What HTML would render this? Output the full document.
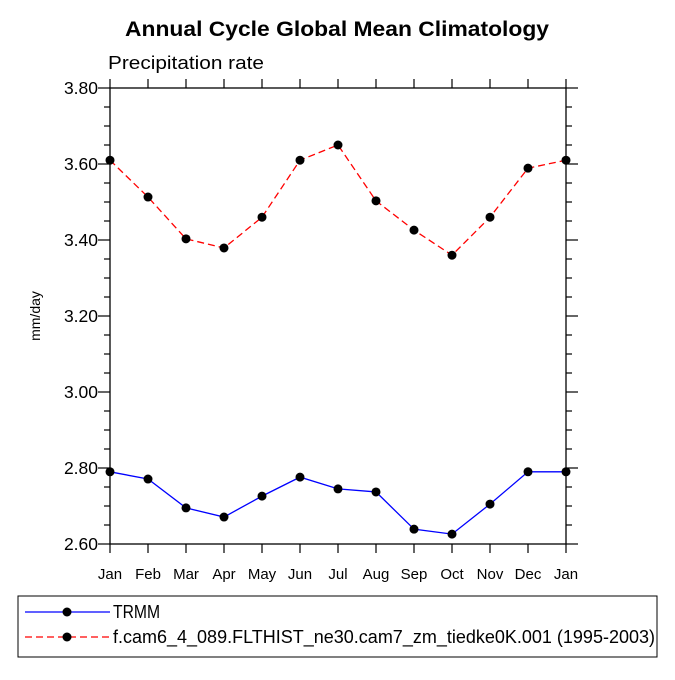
<!DOCTYPE html>
<html><head><meta charset="utf-8"><style>
body{margin:0;background:#fff}
svg{font-family:"Liberation Sans",sans-serif}
</style></head><body>
<svg width="675" height="675" id="c">
<text x="125" y="36" textLength="424" lengthAdjust="spacingAndGlyphs" font-size="21" font-weight="bold">Annual Cycle Global Mean Climatology</text>
<text x="108" y="69" textLength="156" lengthAdjust="spacingAndGlyphs" font-size="18">Precipitation rate</text>
<text transform="translate(40,316) rotate(-90)" text-anchor="middle" font-size="14">mm/day</text>
<g id="ax"></g>
<g id="marks"></g>
<rect x="18" y="596" width="639" height="61" fill="none" stroke="#000" stroke-width="1"/>
<g>
<line x1="25" y1="612" x2="110" y2="612" stroke="#0000ff" stroke-width="1.3"/>
<circle cx="67" cy="612" r="4.5"/>
<text x="113" y="618" font-size="18" textLength="47" lengthAdjust="spacingAndGlyphs">TRMM</text></g>
<g>
<line x1="25" y1="637" x2="110" y2="637" stroke="#ff0000" stroke-width="1.3" stroke-dasharray="7,4"/>
<circle cx="67" cy="637" r="4.5"/>
<text x="113" y="643" font-size="18" textLength="542" lengthAdjust="spacingAndGlyphs">f.cam6_4_089.FLTHIST_ne30.cam7_zm_tiedke0K.001 (1995-2003)</text></g>
</svg>
<script>
const months=["Jan","Feb","Mar","Apr","May","Jun","Jul","Aug","Sep","Oct","Nov","Dec","Jan"];
const trmm=[2.79,2.771,2.695,2.671,2.726,2.776,2.745,2.737,2.639,2.626,2.705,2.79,2.79];
const model=[3.61,3.513,3.403,3.379,3.46,3.61,3.65,3.503,3.426,3.36,3.46,3.589,3.61];
const yTicks=[2.6,2.8,3.0,3.2,3.4,3.6,3.8];
const yTickLabels=["2.60","2.80","3.00","3.20","3.40","3.60","3.80"];
const X0=110,X1=566,Y0=544,Y1=88,ymin=2.6,ymax=3.8;
const xs=i=>X0+(X1-X0)*i/(months.length-1);
const ys=v=>Y0-(v-ymin)/(ymax-ymin)*(Y0-Y1);
const NS="http://www.w3.org/2000/svg";
function mk(p,t,a){const e=document.createElementNS(NS,t);for(const k in a)e.setAttribute(k,a[k]);p.appendChild(e);return e;}
const ax=document.getElementById('ax'),mg=document.getElementById('marks');
const fr=mk(ax,'rect',{x:X0,y:Y1,width:X1-X0,height:Y0-Y1,fill:'none',stroke:'#000','stroke-width':1.3});


for(let v=ymin;v<=ymax+1e-6;v+=0.05){
 const maj=Math.abs(v*5-Math.round(v*5))<1e-6;const L=maj?12:6;const y=ys(v);
 mk(ax,'line',{x1:X0-L,x2:X0,y1:y,y2:y,stroke:'#000','stroke-width':1.2});
 mk(ax,'line',{x1:X1,x2:X1+L,y1:y,y2:y,stroke:'#000','stroke-width':1.2});
}
yTicks.forEach((v,i)=>{const t=mk(ax,'text',{x:X0-12,y:ys(v)+6,'text-anchor':'end','font-size':17.5});t.textContent=yTickLabels[i];

});
months.forEach((m,i)=>{const x=xs(i);
 mk(ax,'line',{x1:x,x2:x,y1:Y0,y2:Y0+9,stroke:'#000','stroke-width':1.2});
 mk(ax,'line',{x1:x,x2:x,y1:Y1-9,y2:Y1,stroke:'#000','stroke-width':1.2});
 const t=mk(ax,'text',{x:x,y:Y0+35,'text-anchor':'middle','font-size':15});t.textContent=m;
 
 });
function series(d,col,dash,name){
 const pl=mk(mg,'polyline',{points:d.map((v,i)=>xs(i)+','+ys(v)).join(' '),fill:'none',stroke:col,'stroke-width':1.3,'stroke-dasharray':dash});
 
 
 d.forEach((v,i)=>{const c=mk(mg,'circle',{cx:xs(i),cy:ys(v),r:4.5});
 
 });
}
series(trmm,'#0000ff','none','trmm');
series(model,'#ff0000','7,4','model');
</script>
</body></html>
